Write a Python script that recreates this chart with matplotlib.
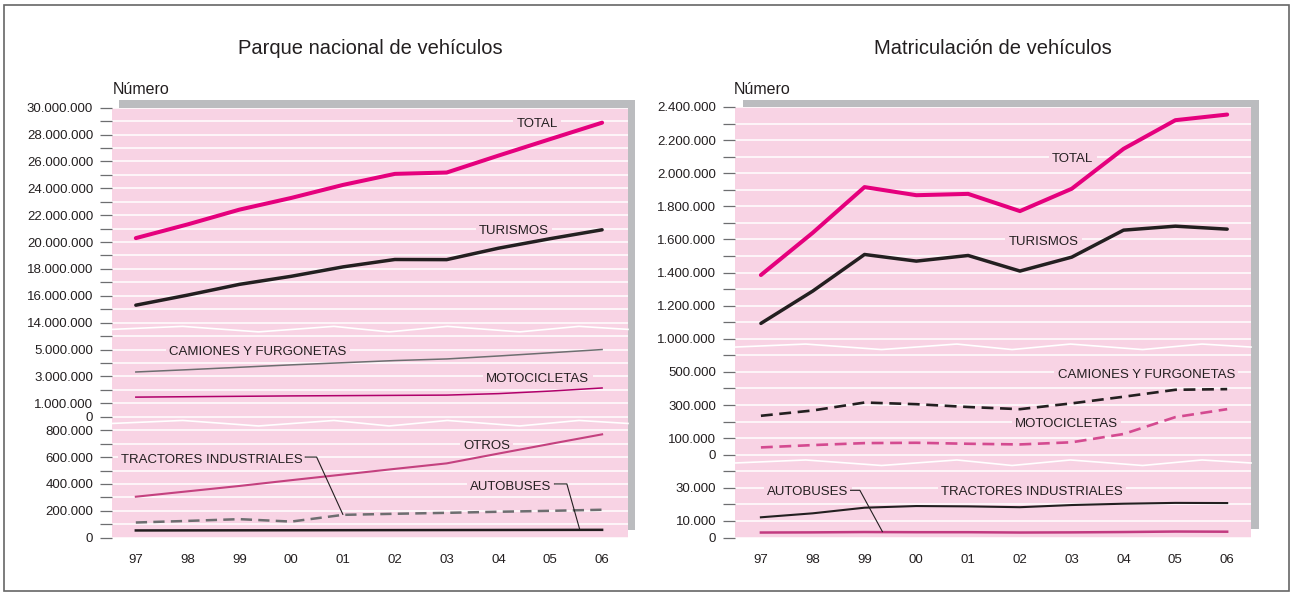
import numpy as np
import matplotlib
matplotlib.use("Agg")
import matplotlib.pyplot as plt
from matplotlib.patches import Rectangle
from matplotlib.lines import Line2D

plt.rcParams['font.family'] = ['Liberation Sans', 'DejaVu Sans']

# ---------------- data ----------------
years = ['97', '98', '99', '00', '01', '02', '03', '04', '05', '06']

# Parque nacional de vehículos (unidades)
parque_total = [20290000, 21310000, 22410000, 23280000, 24250000,
                25070000, 25170000, 26430000, 27660000, 28880000]
parque_turismos = [15300000, 16050000, 16850000, 17450000, 18150000,
                   18700000, 18690000, 19540000, 20250000, 20910000]
parque_camiones = [3330000, 3500000, 3680000, 3860000, 4020000,
                   4180000, 4300000, 4520000, 4760000, 5000000]
parque_motos = [1460000, 1490000, 1520000, 1550000, 1570000,
                1590000, 1610000, 1720000, 1910000, 2140000]
parque_otros = [305000, 345000, 385000, 428000, 470000,
                512000, 553000, 626000, 698000, 769000]
parque_tractores = [113000, 125000, 138000, 120000, 170000,
                    178000, 185000, 193000, 200000, 208000]
parque_autobuses = [54000, 54500, 55000, 55500, 56000,
                    56500, 57000, 57500, 58000, 58500]

# Matriculación de vehículos (unidades)
matric_total = [1385000, 1640000, 1916000, 1867000, 1875000,
                1771000, 1906000, 2147000, 2320000, 2354000]
matric_turismos = [1093000, 1288000, 1509000, 1469000, 1503000,
                   1409000, 1493000, 1656000, 1680000, 1662000]
matric_camiones = [235000, 267000, 315000, 305000, 288000,
                   275000, 310000, 350000, 392000, 396000]
matric_motos = [44000, 58000, 70000, 72000, 66000,
                62000, 75000, 125000, 227000, 275000]
matric_tractores = [12200, 14600, 18000, 19000, 18800,
                    18300, 19600, 20400, 20900, 20800]
matric_autobuses = [3000, 3100, 3300, 3200, 3200,
                    3000, 3100, 3300, 3600, 3500]

# ---------------- style ----------------
W, H = 1293, 604
PINK = '#F8D3E4'
SHADOW = '#BBBCBF'
INK = '#231F20'
GREY = '#6D6E70'
MAGENTA = '#E5007D'
PURPLE = '#C4417F'
FS = 9.5

fig = plt.figure(figsize=(W / 100, H / 100), dpi=100)


def rect(left, top, right, bottom):
    return [left / W, 1 - bottom / H, (right - left) / W, (bottom - top) / H]


def fmt(v):
    return f"{v:,.0f}".replace(',', '.')


def make_axes(left, right, top, bottom, ylim, ticks, labelled, xlim, show_x=False):
    ax = fig.add_axes(rect(left, top, right, bottom))
    ax.set_facecolor(PINK)
    ax.set_xlim(*xlim)
    ax.set_ylim(*ylim)
    for s in ax.spines.values():
        s.set_visible(False)
    ax.set_yticks(ticks)
    ax.set_yticklabels([fmt(t) if t in labelled else '' for t in ticks])
    ax.tick_params(axis='y', length=8.6, width=0.9, color=GREY, pad=5,
                   labelsize=FS, labelcolor=INK)
    ax.grid(axis='y', color='white', lw=1.1)
    ax.set_axisbelow(True)
    if show_x:
        ax.set_xticks(range(len(years)))
        ax.set_xticklabels(years)
        ax.tick_params(axis='x', length=0, pad=12, labelsize=FS, labelcolor=INK)
    else:
        ax.set_xticks([])
    return ax


def label(ax, x, y, text, dy=-2.0):
    # the pink box only interrupts the white grid line; series lines stay on top
    ax.annotate(text, (x, y), xytext=(0, dy), textcoords='offset points',
                ha='center', va='center', fontsize=FS, color=INK, zorder=3,
                bbox=dict(boxstyle='square,pad=0.25', fc=PINK, ec='none'))


def leader(ax, x_end, x_stub, y_label, x_target, series):
    y_target = np.interp(x_target, np.arange(len(series)), series)
    ax.plot([x_end, x_stub, x_target], [y_label, y_label, y_target],
            color=INK, lw=0.8, zorder=6, solid_capstyle='butt')


def wave(left, right, y):
    fr = np.array([0, 0.137, 0.284, 0.43, 0.537, 0.65, 0.79, 0.905, 1.0])
    off = np.array([0, 3.0, -2.5, 3.0, -2.5, 3.0, -2.5, 3.0, 0])
    xs = (left + fr * (right - left)) / W
    ys = 1 - (y - off) / H
    fig.add_artist(Line2D(xs, ys, transform=fig.transFigure, color='white',
                          lw=1.2, zorder=3))


x = np.arange(len(years))

# ---------------- left panel: parque ----------------
L0, L1 = 112, 628
z0, st = 537.7, 13.44
b1 = z0 - 8.5 * st
b2 = b1 - 7 * st
b3 = b2 - 16.5 * st
lxlim = (-0.46, 9.5)

fig.add_artist(Rectangle((119 / W, 1 - 530 / H), (635 - 119) / W, (530 - 100) / H,
                         transform=fig.transFigure, fc=SHADOW, ec='none', zorder=-1))

la_bot = make_axes(L0, L1, b1, z0, (0, 850000),
                   list(range(0, 800001, 100000)),
                   [0, 200000, 400000, 600000, 800000], lxlim, show_x=True)
la_mid = make_axes(L0, L1, b2, b1, (-500000, 6500000),
                   list(range(0, 6000001, 1000000)),
                   [0, 1000000, 3000000, 5000000], lxlim)
la_top = make_axes(L0, L1, b3, b2, (13500000, 30000000),
                   list(range(14000000, 30000001, 1000000)),
                   list(range(14000000, 30000001, 2000000)), lxlim)

la_top.plot(x, parque_total, color=MAGENTA, lw=2.9, solid_capstyle='round', zorder=4)
la_top.plot(x, parque_turismos, color=INK, lw=2.5, solid_capstyle='round', zorder=4)
la_mid.plot(x, parque_camiones, color=GREY, lw=1.1, zorder=4)
la_mid.plot(x, parque_motos, color='#B0006A', lw=1.1, zorder=4)
la_bot.plot(x, parque_otros, color=PURPLE, lw=1.5, zorder=4)
la_bot.plot(x, parque_tractores, color=GREY, lw=1.8, ls=(0, (4.5, 2.5)), zorder=4)
la_bot.plot(x, parque_autobuses, color=INK, lw=1.8, zorder=4)

label(la_top, 7.75, 29000000, 'TOTAL')
label(la_top, 7.30, 21000000, 'TURISMOS')
label(la_mid, 2.36, 5000000, 'CAMIONES Y FURGONETAS')
label(la_mid, 7.76, 3000000, 'MOTOCICLETAS')
label(la_bot, 6.77, 700000, 'OTROS')
label(la_bot, 1.47, 600000, 'TRACTORES INDUSTRIALES')
label(la_bot, 7.24, 400000, 'AUTOBUSES')
leader(la_bot, 3.26, 3.49, 600000, 4.0, parque_tractores)
leader(la_bot, 8.07, 8.32, 400000, 8.57, parque_autobuses)

wave(L0, L1, b1)
wave(L0, L1, b2)

fig.text((L0 + L1) / 2 / W, 1 - 48 / H, 'Parque nacional de vehículos',
         ha='center', va='center', fontsize=14.5, color=INK)
fig.text(113 / W, 1 - 89 / H, 'Número', ha='left', va='center',
         fontsize=11.5, color=INK)

# ---------------- right panel: matriculación ----------------
R0, R1 = 735, 1251
z0, st = 537.5, 16.56
c1 = z0 - 4.5 * st
c2 = c1 - 7 * st
c3 = c2 - 14.5 * st
rxlim = (-0.5, 9.46)

fig.add_artist(Rectangle((743 / W, 1 - 529 / H), (1259 - 743) / W, (529 - 100) / H,
                         transform=fig.transFigure, fc=SHADOW, ec='none', zorder=-1))

ra_bot = make_axes(R0, R1, c1, z0, (0, 45000),
                   list(range(0, 40001, 10000)),
                   [0, 10000, 30000], rxlim, show_x=True)
ra_mid = make_axes(R0, R1, c2, c1, (-50000, 650000),
                   list(range(0, 600001, 100000)),
                   [0, 100000, 300000, 500000], rxlim)
ra_top = make_axes(R0, R1, c3, c2, (950000, 2400000),
                   list(range(1000000, 2400001, 100000)),
                   list(range(1000000, 2400001, 200000)), rxlim)

ra_top.plot(x, matric_total, color=MAGENTA, lw=2.9, solid_capstyle='round', zorder=4)
ra_top.plot(x, matric_turismos, color=INK, lw=2.5, solid_capstyle='round', zorder=4)
ra_mid.plot(x, matric_camiones, color=INK, lw=1.9, ls=(0, (4.5, 2.5)), zorder=4)
ra_mid.plot(x, matric_motos, color='#D44A90', lw=1.9, ls=(0, (4.5, 2.5)), zorder=4)
ra_bot.plot(x, matric_tractores, color=INK, lw=1.5, zorder=4)
ra_bot.plot(x, matric_autobuses, color='#C23B80', lw=1.8, zorder=4)

label(ra_top, 6.02, 2100000, 'TOTAL')
label(ra_top, 5.45, 1600000, 'TURISMOS')
label(ra_mid, 7.44, 500000, 'CAMIONES Y FURGONETAS')
label(ra_mid, 5.90, 200000, 'MOTOCICLETAS')
label(ra_bot, 5.23, 30000, 'TRACTORES INDUSTRIALES', dy=-3.0)
label(ra_bot, 0.91, 30000, 'AUTOBUSES', dy=-3.0)
leader(ra_bot, 1.72, 1.91, 28500, 2.35, matric_autobuses)

wave(R0, R1, c1)
wave(R0, R1, c2)

fig.text((R0 + R1) / 2 / W, 1 - 48 / H, 'Matriculación de vehículos',
         ha='center', va='center', fontsize=14.5, color=INK)
fig.text(734 / W, 1 - 89 / H, 'Número', ha='left', va='center',
         fontsize=11.5, color=INK)

# outer frame
fig.add_artist(Rectangle((4 / W, 1 - 591 / H), (1289 - 4) / W, (591 - 5) / H,
                         transform=fig.transFigure, fc='none', ec='#666666',
                         lw=1.2, zorder=10))

fig.savefig('out.png', dpi=100)
